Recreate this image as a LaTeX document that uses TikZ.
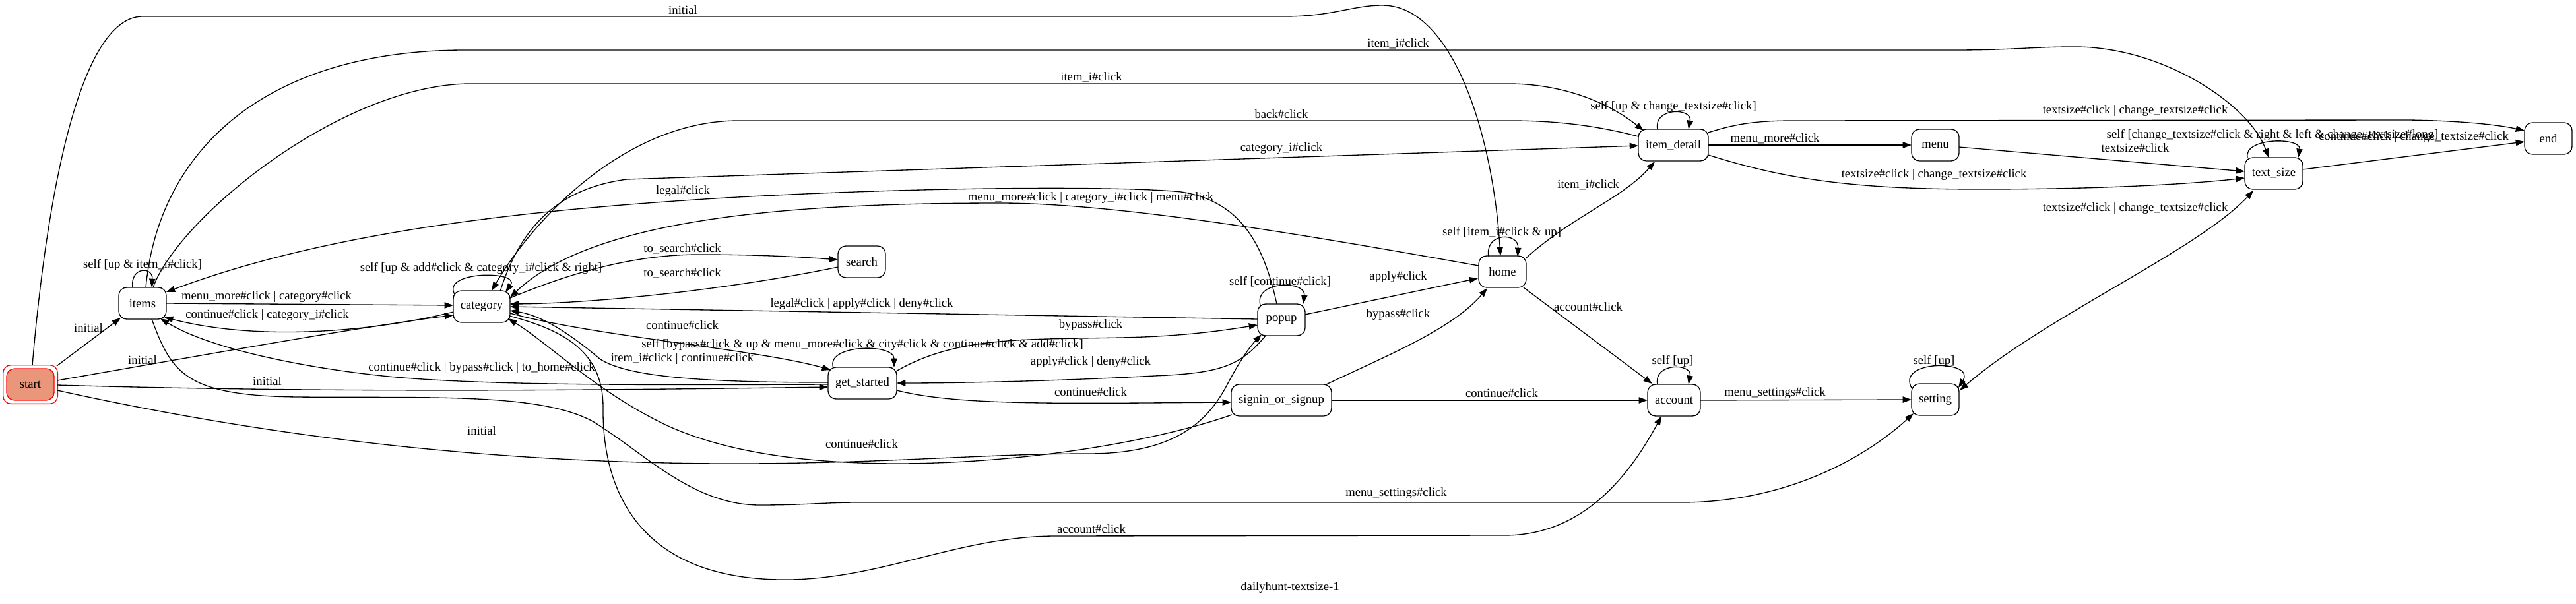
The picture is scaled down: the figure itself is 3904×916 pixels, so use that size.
\documentclass[tikz,border=0pt]{standalone}
\usepackage{fontspec}
\setmainfont{Liberation Serif}
\usetikzlibrary{arrows.meta,calc}
\definecolor{gvsalmon}{RGB}{233,150,122}
\newcommand\gvf{\fontsize{14}{16}\selectfont}
\begin{document}
\begin{tikzpicture}[x=0.75pt,y=-0.75pt,
  st/.style={draw, line width=1pt, rounded corners=9pt, minimum height=36pt, inner sep=0pt, font=\gvf},
  lb/.style={inner sep=0pt, font=\gvf},
  ed/.style={draw, line width=1pt, -{Triangle[length=10pt,width=7pt]}},
  bo/.style={draw, line width=1pt, {Triangle[length=10pt,width=7pt]}-{Triangle[length=10pt,width=7pt]}}]
\useasboundingbox (0,0) rectangle (3904,916);
\fill[white] (0,0) rectangle (3904,916);
% nodes
\node[st, draw=red, minimum width=62pt, minimum height=44pt] (st) at (46,583) {};
\node[st, draw=red, fill=gvsalmon, minimum width=54pt] (stin) at (46,583) {start};
\node[st, minimum width=54pt] (items) at (216,460) {items};
\node[st, minimum width=64.5pt] (cat) at (730,465) {category};
\node[st, minimum width=54pt] (search) at (1306,397) {search};
\node[st, minimum width=78pt] (gs) at (1307,581) {get\_started};
\node[st, minimum width=54pt] (popup) at (1942,485) {popup};
\node[st, minimum width=114pt] (signin) at (1942,607) {signin\_or\_signup};
\node[st, minimum width=54pt] (home) at (2277,412) {home};
\node[st, minimum width=60pt] (account) at (2537,607) {account};
\node[st, minimum width=79.5pt] (idet) at (2536,220) {item\_detail};
\node[st, minimum width=54pt] (menu) at (2933,220) {menu};
\node[st, minimum width=54pt] (setting) at (2933,606) {setting};
\node[st, minimum width=66pt] (ts) at (3446,263) {text\_size};
\node[st, minimum width=54pt] (endn) at (3862,210) {end};
\node[lb] (title) at (1955,891) {dailyhunt-textsize-1};
% edges
\draw[ed] ($(st)+(40,-28)$) -- ($(items)+(-33,22)$);
\draw[ed] ($(st)+(3,-29)$) .. controls (75,250) and (130,25) .. (216,25) -- (1946,25) .. controls (2020,25) and (2050,8) .. (2095,8) .. controls (2200,8) and (2262,200) .. ($(home)+(-3,-24)$);
\draw[ed] ($(items)+(5,-24)$) .. controls (240,230) and (400,76) .. (705,76) -- (2962,76) .. controls (3050,76) and (3080,71) .. (3144,71) .. controls (3280,71) and (3410,160) .. ($(ts)+(-8,-24)$);
\draw[ed] ($(items)+(16,-24)$) .. controls (270,330) and (520,127) .. (713,127) -- (2286,127) .. controls (2360,127) and (2430,150) .. ($(idet)+(-45,-22)$);
\draw[ed] ($(idet)+(-53,-13)$) .. controls (2400,185) and (2330,183) .. (2286,183) -- (1119,183) .. controls (950,183) and (810,330) .. ($(cat)+(15,-24)$);
\draw[ed] ($(cat)+(28,-23)$) .. controls (790,340) and (850,285) .. (950,272) -- ($(idet)+(-53,1)$);
\draw[ed] ($(popup)+(-7,-24)$) .. controls (1915,370) and (1880,305) .. (1790,291) .. controls (1700,282) and (1400,283) .. (1100,300) .. controls (800,318) and (500,350) .. ($(items)+(36,-17)$);
\draw[ed] ($(home)+(-36,-9)$) .. controls (2000,360) and (1700,308) .. (1516,308) .. controls (1200,308) and (900,330) .. ($(cat)+(43,-14)$);
\draw[ed] ($(items)+(36,0)$) -- ($(cat)+(-43,-2)$);
\draw[ed] ($(cat)+(-43,8)$) .. controls (580,500) and (400,520) .. ($(items)+(33,21)$);
\draw[ed] ($(st)+(41,-6)$) .. controls (300,540) and (550,495) .. ($(cat)+(-43,13)$);
\draw[ed] ($(st)+(41,1)$) .. controls (500,596) and (900,592) .. ($(gs)+(-52,6)$);
\draw[ed] ($(gs)+(-52,2)$) .. controls (1000,584) and (750,585) .. (600,572) .. controls (470,560) and (320,530) .. ($(items)+(27,23)$);
\draw[ed] ($(items)+(14,24)$) .. controls (260,565) and (280,600) .. (450,602) .. controls (650,604) and (820,595) .. (900,640) .. controls (980,690) and (1050,765) .. (1150,766) .. controls (1220,766) and (1250,762) .. (1300,762) -- (2547,762) .. controls (2700,762) and (2820,700) .. ($(setting)+(-33,21)$);
\draw[ed] ($(cat)+(42,14)$) .. controls (850,500) and (915,530) .. (914,620) .. controls (913,720) and (950,875) .. (1180,879) .. controls (1330,882) and (1450,813) .. (1600,813) -- (2280,812) .. controls (2400,812) and (2470,720) .. ($(account)+(-19,24)$);
\draw[ed] ($(signin)+(-75,22)$) .. controls (1750,670) and (1550,703) .. (1360,703) .. controls (1200,703) and (1080,680) .. (1000,640) .. controls (900,590) and (830,520) .. ($(cat)+(40,18)$);
\draw[ed] ($(st)+(41,9)$) .. controls (350,650) and (700,705) .. (1136,703) .. controls (1350,702) and (1500,688) .. (1650,688) .. controls (1780,688) and (1830,640) .. (1860,583) .. controls (1880,545) and (1895,525) .. ($(popup)+(-30,22)$);
\draw[ed] ($(cat)+(43,-13)$) .. controls (850,420) and (950,386) .. (1060,386) .. controls (1150,386) and (1220,390) .. ($(search)+(-36,-3)$);
\draw[ed] ($(search)+(-36,8)$) .. controls (1100,440) and (900,460) .. ($(cat)+(43,-4)$);
\draw[ed] ($(popup)+(-36,-1)$) -- ($(cat)+(43,0)$);
\draw[ed] ($(cat)+(43,10)$) .. controls (900,510) and (1150,530) .. ($(gs)+(-48,-20)$);
\draw[ed] ($(gs)+(-52,-1)$) .. controls (1050,580) and (950,570) .. (910,545) .. controls (880,520) and (830,480) .. ($(cat)+(43,6)$);
\draw[ed] ($(gs)+(-44,-23)$) .. controls (1250,522) and (1355,520) .. ($(gs)+(48,-24)$);
\draw[ed] ($(gs)+(51,-18)$) .. controls (1450,510) and (1550,515) .. (1700,512) .. controls (1800,510) and (1860,500) .. ($(popup)+(-36,8)$);
\draw[ed] ($(popup)+(-24,24)$) .. controls (1880,555) and (1850,566) .. (1750,570) .. controls (1600,578) and (1450,581) .. ($(gs)+(52,0)$);
\draw[ed] ($(gs)+(52,11)$) .. controls (1450,615) and (1600,612) .. ($(signin)+(-76,3)$);
\draw[ed] ($(popup)+(-32,-22)$) .. controls (1900,425) and (1980,425) .. ($(popup)+(33,-24)$);
\draw[ed] ($(popup)+(36,-8)$) -- ($(home)+(-37,10)$);
\draw[ed] ($(signin)+(68,-24)$) .. controls (2100,540) and (2200,500) .. ($(home)+(-23,25)$);
\draw[ed] ($(signin)+(76,0)$) -- ($(account)+(-40,0)$);
\draw[ed] ($(home)+(32,24)$) -- ($(account)+(-33,-25)$);
\draw[ed] ($(home)+(-21,-23)$) .. controls (2250,352) and (2302,352) .. ($(home)+(23,-23)$);
\draw[ed] ($(home)+(35,-20)$) .. controls (2380,330) and (2460,300) .. ($(idet)+(-28,25)$);
\draw[ed] ($(account)+(-25,-24)$) .. controls (2505,550) and (2565,550) .. ($(account)+(22,-24)$);
\draw[ed] ($(account)+(40,0)$) -- ($(setting)+(-36,0)$);
\draw[ed] ($(setting)+(-35,-16)$) .. controls (2870,545) and (2995,545) .. ($(setting)+(35,-18)$);
\draw[bo] ($(ts)+(-31,26)$) .. controls (3330,380) and (3100,480) .. ($(setting)+(37,-14)$);
\draw[ed] ($(idet)+(-24,-24)$) .. controls (2505,163) and (2565,163) .. ($(idet)+(23,-24)$);
\draw[ed] ($(idet)+(53,0)$) -- ($(menu)+(-36,0)$);
\draw[ed] ($(menu)+(36,3)$) -- ($(ts)+(-44,-3)$);
\draw[ed] ($(idet)+(53,15)$) .. controls (2700,270) and (2800,287) .. (3000,287) .. controls (3200,287) and (3330,278) .. ($(ts)+(-44,7)$);
\draw[ed] ($(idet)+(53,-19)$) .. controls (2630,188) and (2660,183) .. (2720,183) -- (3650,182) .. controls (3720,183) and (3780,188) .. ($(endn)+(-36,-12)$);
\draw[ed] ($(ts)+(-40,-24)$) .. controls (3400,208) and (3488,208) .. ($(ts)+(37,-24)$);
\draw[ed] ($(ts)+(44,-6)$) -- ($(endn)+(-36,5)$);
\draw[ed] ($(items)+(-15,-24)$) .. controls (197,404) and (232,404) .. ($(items)+(14,-24)$);
\draw[ed] ($(cat)+(-40,-17)$) .. controls (665,410) and (790,410) .. ($(cat)+(36,-22)$);
% labels
\node[lb] (l1) at (1035,15) {initial};
\node[lb] (l2) at (2119,66) {item\_i\#click};
\node[lb] (l3) at (1654,117) {item\_i\#click};
\node[lb] (l4) at (1942,173) {back\#click};
\node[lb] (l5) at (1942,225) {category\_i\#click};
\node[lb] (l6) at (1035,290) {legal\#click};
\node[lb] (l7) at (1653,300) {menu\_more\#click | category\_i\#click | menu\#click};
\node[lb] (l8) at (404,450) {menu\_more\#click | category\#click};
\node[lb] (l9) at (405,478) {continue\#click | category\_i\#click};
\node[lb] (l10) at (134,497) {initial};
\node[lb] (l11) at (216,546) {initial};
\node[lb] (l12) at (405,578) {initial};
\node[lb] (l13) at (730,558) {continue\#click | bypass\#click | to\_home\#click};
\node[lb] (l14) at (730,653) {initial};
\node[lb] (l15) at (2116,748) {menu\_settings\#click};
\node[lb] (l16) at (1654,802) {account\#click};
\node[lb] (l17) at (1306,673) {continue\#click};
\node[lb] (l18) at (1034,377) {to\_search\#click};
\node[lb] (l19) at (1034,414) {to\_search\#click};
\node[lb] (l20) at (1306,461) {legal\#click | apply\#click | deny\#click};
\node[lb] (l21) at (1034,493) {continue\#click};
\node[lb] (l22) at (1307,523) {self [bypass\#click \& up \& menu\_more\#click \& city\#click \& continue\#click \& add\#click]};
\node[lb] (l23) at (1034,544) {item\_i\#click | continue\#click};
\node[lb] (l24) at (1940,427) {self [continue\#click]};
\node[lb] (l25) at (1653,493) {bypass\#click};
\node[lb] (l26) at (1653,549) {apply\#click | deny\#click};
\node[lb] (l27) at (1653,594) {continue\#click};
\node[lb] (l28) at (2119,420) {apply\#click};
\node[lb] (l29) at (2119,477) {bypass\#click};
\node[lb] (l30) at (2276,596) {continue\#click};
\node[lb] (l31) at (2407,465) {account\#click};
\node[lb] (l32) at (2276,353) {self [item\_i\#click \& up]};
\node[lb] (l33) at (2407,280) {item\_i\#click};
\node[lb] (l34) at (2535,548) {self [up]};
\node[lb] (l35) at (2690,596) {menu\_settings\#click};
\node[lb] (l36) at (2931,548) {self [up]};
\node[lb] (l37) at (3236,316) {textsize\#click | change\_textsize\#click};
\node[lb] (l38) at (2536,162) {self [up \& change\_textsize\#click]};
\node[lb] (l39) at (2690,210) {menu\_more\#click};
\node[lb] (l40) at (3236,224) {textsize\#click};
\node[lb] (l41) at (2931,265) {textsize\#click | change\_textsize\#click};
\node[lb] (l42) at (3236,168) {textsize\#click | change\_textsize\#click};
\node[lb] (l43) at (3444,205) {self [change\_textsize\#click \& right \& left \& change\_textsize\#long]};
\node[lb] (l44) at (3658,208) {continue\#click | change\_textsize\#click};
\node[lb] (l45) at (216,402) {self [up \& item\_i\#click]};
\node[lb] (l46) at (729,407) {self [up \& add\#click \& category\_i\#click \& right]};
\end{tikzpicture}
\end{document}
